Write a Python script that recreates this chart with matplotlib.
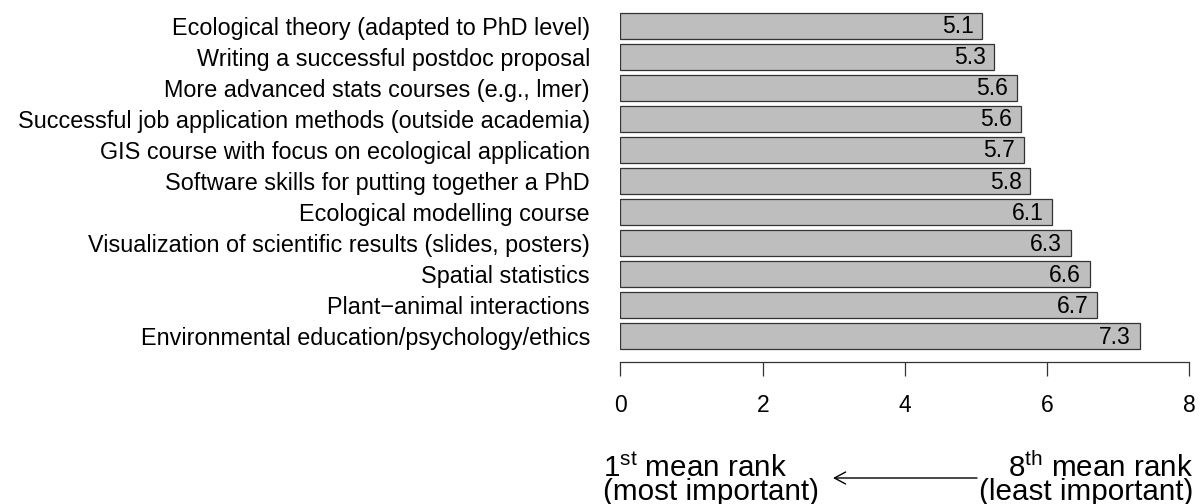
import matplotlib
matplotlib.use("Agg")
import matplotlib.pyplot as plt

plt.rcParams['font.family'] = ['Liberation Sans', 'DejaVu Sans']
plt.rcParams['mathtext.fontset'] = 'custom'
plt.rcParams['mathtext.rm'] = 'Liberation Sans'
plt.rcParams['mathtext.it'] = 'Liberation Sans:italic'
plt.rcParams['mathtext.bf'] = 'Liberation Sans:bold'

categories = [
    "Ecological theory (adapted to PhD level)",
    "Writing a successful postdoc proposal",
    "More advanced stats courses (e.g., lmer)",
    "Successful job application methods (outside academia)",
    "GIS course with focus on ecological application",
    "Software skills for putting together a PhD",
    "Ecological modelling course",
    "Visualization of scientific results (slides, posters)",
    "Spatial statistics",
    "Plant\u2212animal interactions",
    "Environmental education/psychology/ethics",
]
mean_rank = [5.09, 5.26, 5.57, 5.63, 5.67, 5.76, 6.07, 6.33, 6.60, 6.70, 7.30]
value_labels = ["5.1", "5.3", "5.6", "5.6", "5.7", "5.8", "6.1", "6.3", "6.6", "6.7", "7.3"]
xticks = [0, 2, 4, 6, 8]

W, H = 1204, 504
PT = 72 / 100  # points per pixel at dpi 100
fig = plt.figure(figsize=(W / 100, H / 100), dpi=100)
x0_px, px_per_unit = 620.5, 71.1
top_px, bot_px = 10.2, 351.3
ax = fig.add_axes([x0_px / W, 1 - bot_px / H, 8 * px_per_unit / W, (bot_px - top_px) / H])

fs_lab = 16.8
fs_num = 16.5
ypos = list(range(len(categories)))
ax.barh(ypos, mean_rank, height=0.85, color='#BEBEBE', edgecolor='#333333', linewidth=0.9)
for y, v, lab in zip(ypos, mean_rank, value_labels):
    ax.text(v - 0.12, y + 0.25, lab, ha='right', va='baseline', fontsize=fs_num, color='black')

ax.set_xlim(0, 8)
ax.set_ylim(len(categories) - 0.5, -0.5)
ax.set_yticks(ypos)
ax.set_yticklabels(categories)
ax.tick_params(axis='y', length=0, pad=30.5 * PT, labelsize=fs_lab)
ax.set_xticks(xticks)
ax.set_xticklabels([str(t) for t in xticks])
ax.tick_params(axis='x', length=14.4 * PT, width=0.9, pad=17 * PT, color='#333333',
               direction='out', labelsize=fs_num)
for s in ['top', 'right', 'left']:
    ax.spines[s].set_visible(False)
ax.spines['bottom'].set_position(('outward', 11 * PT))
ax.spines['bottom'].set_bounds(0, 8)
ax.spines['bottom'].set_linewidth(0.9)
ax.spines['bottom'].set_color('#333333')

fs_big = 21.3
fig.text(603 / W, 1 - 477 / H, r"1$^{\mathrm{st}}$ mean rank", ha='left', va='baseline', fontsize=fs_big)
fig.text(603 / W, 1 - 500 / H, "(most important)", ha='left', va='baseline', fontsize=fs_big)
fig.text(1193 / W, 1 - 477 / H, r"8$^{\mathrm{th}}$ mean rank", ha='right', va='baseline', fontsize=fs_big)
fig.text(1193 / W, 1 - 500 / H, "(least important)", ha='right', va='baseline', fontsize=fs_big)
fig.add_artist(matplotlib.patches.FancyArrowPatch(
    (977 / W, 1 - 478 / H), (833 / W, 1 - 478 / H), transform=fig.transFigure,
    arrowstyle='->,head_length=8,head_width=4.3', lw=1.0, color='black',
    shrinkA=0, shrinkB=0))

fig.savefig("out.png", dpi=100)
